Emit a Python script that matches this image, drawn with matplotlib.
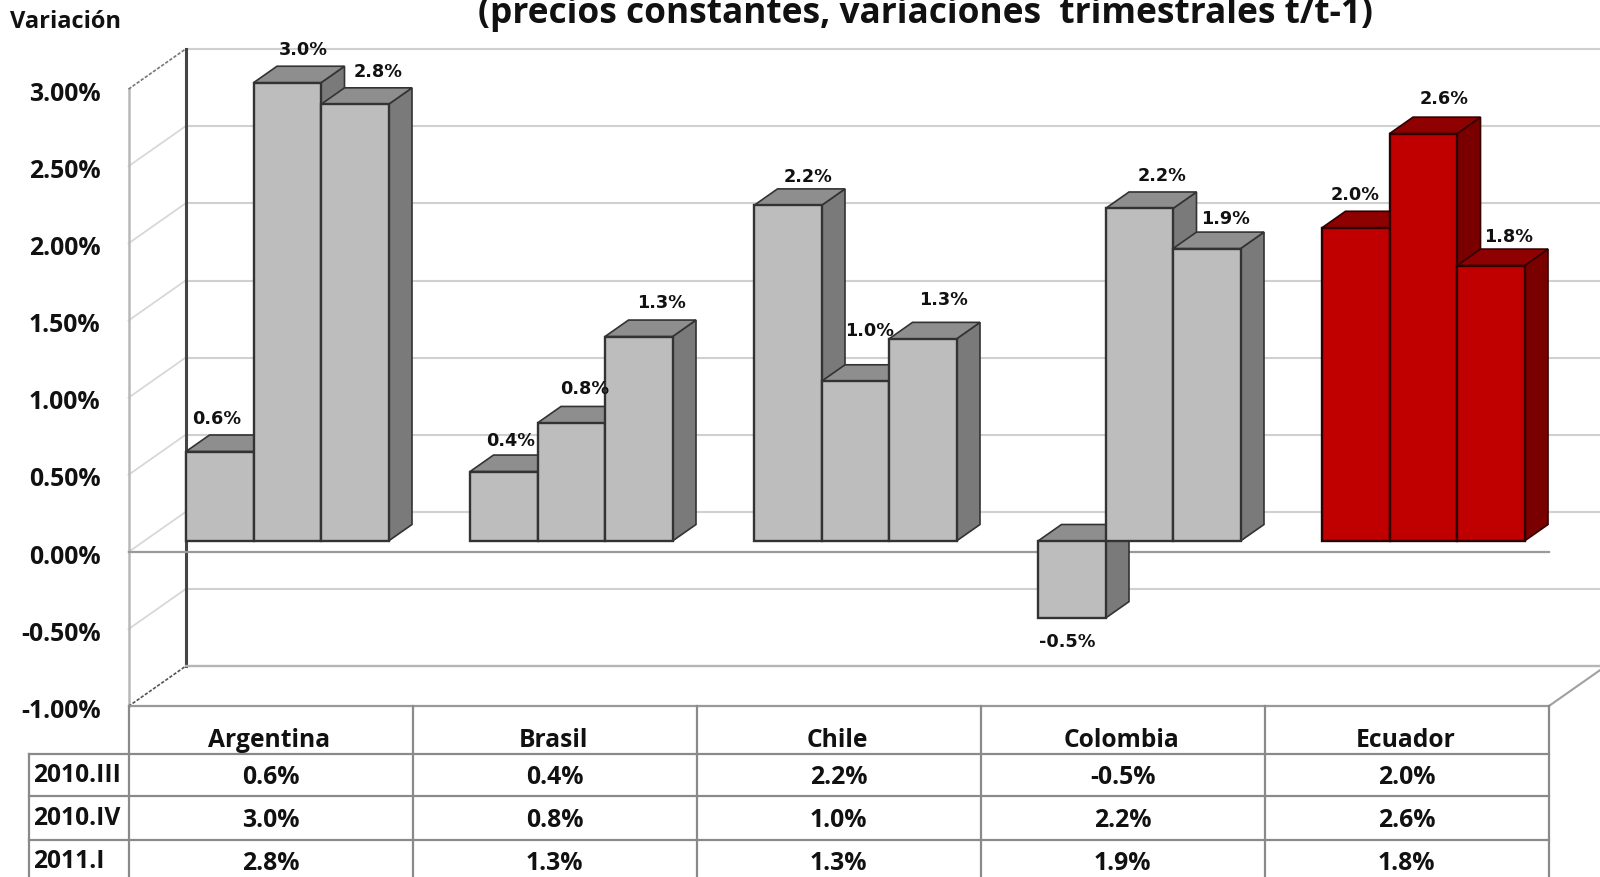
import matplotlib
matplotlib.use("Agg")
import matplotlib.pyplot as plt
from matplotlib.patches import Polygon

plt.rcParams['font.family'] = ['Open Sans', 'DejaVu Sans']

countries = ["Argentina", "Brasil", "Chile", "Colombia", "Ecuador"]
periods = ["2010.III", "2010.IV", "2011.I"]
v_2010_3 = [0.58, 0.45, 2.175, -0.50, 2.03]
v_2010_4 = [2.97, 0.765, 1.035, 2.155, 2.64]
v_2011_1 = [2.83, 1.325, 1.31, 1.895, 1.785]
lab_2010_3 = ["0.6%", "0.4%", "2.2%", "-0.5%", "2.0%"]
lab_2010_4 = ["3.0%", "0.8%", "1.0%", "2.2%", "2.6%"]
lab_2011_1 = ["2.8%", "1.3%", "1.3%", "1.9%", "1.8%"]
yticks = [-1.0, -0.5, 0, 0.5, 1.0, 1.5, 2.0, 2.5, 3.0]

W, H = 1600, 878
PX = 284.0   # px per category
PY = 154.3   # px per unit
X0, Y0 = 128.5, 553
fig = plt.figure(figsize=(W/100, H/100), dpi=100)
ax = fig.add_axes([0, 0, 1, 1])
ax.set_xlim(-X0/PX, (W-X0)/PX)
ax.set_ylim(-(H-Y0)/PY, Y0/PY)
ax.axis('off')

dx = lambda px: px/PX
dy = lambda px: px/PY
WALL_X, WALL_Y = dx(57), dy(40)
BAR_DX, BAR_DY = dx(23.5), dy(16.5)
PLANE_X, PLANE_Y = dx(16.5), dy(11)
RIGHT = 5.0
GRID = "#d0d0d0"
TOP_EXT = (W-X0)/PX

# walls and gridlines
for t in yticks[1:-1]:
    ax.plot([0, WALL_X], [t, t+WALL_Y], color="#d8d8d8", lw=1.3, zorder=1)
for t in yticks[1:]:
    ax.plot([WALL_X, TOP_EXT], [t+WALL_Y]*2, color=GRID, lw=1.5, zorder=1)
ax.plot([WALL_X, WALL_X], [-1+WALL_Y, 3+WALL_Y], color="#444444", lw=2.2, zorder=2)
ax.plot([0, 0], [-1, 3], color="#b8b8b8", lw=1.8, zorder=2)
ax.plot([0, WALL_X], [3, 3+WALL_Y], color="#777777", lw=1.2, ls=(0, (2, 1)), zorder=2)
ax.plot([0, WALL_X], [-1, -1+WALL_Y], color="#555555", lw=1.2, ls=(0, (2, 1)), zorder=2)
ax.plot([WALL_X, TOP_EXT], [-1+WALL_Y]*2, color="#b5b5b5", lw=1.7, zorder=2)
ax.plot([RIGHT, RIGHT+WALL_X], [-1, -1+WALL_Y], color="#a0a0a0", lw=1.5, zorder=2)
ax.plot([0, RIGHT], [0, 0], color="#999999", lw=1.6, zorder=2)
ax.plot([0, RIGHT], [-1, -1], color="#999999", lw=1.6, zorder=2)

# y tick labels
for t in yticks:
    ax.text(dx(-28), t-dy(4), f"{t:.2f}%", ha='right', va='center', fontsize=17.8,
            fontweight='bold', color="#111111", zorder=8)

ax.text(dx(-118.5), Y0/PY-dy(22), "Variación", ha='left', va='center', fontsize=17,
        fontweight='bold', color="#111111")
ax.text(2.805, Y0/PY-dy(14), "(precios constantes, variaciones  trimestrales t/t-1)",
        ha='center', va='center', fontsize=25.4, fontweight='bold', color="#111111")


def bar3d(x, w, v, front, top, side, edge, z):
    y0 = PLANE_Y
    y1 = v + PLANE_Y
    x0 = x + PLANE_X
    x1 = x0 + w
    hi, lo = max(y0, y1), min(y0, y1)
    ax.add_patch(Polygon([(x1, lo), (x1+BAR_DX, lo+BAR_DY), (x1+BAR_DX, hi+BAR_DY), (x1, hi)],
                         fc=side, ec=edge, lw=1.2, zorder=z))
    ax.add_patch(Polygon([(x0, hi), (x0+BAR_DX, hi+BAR_DY), (x1+BAR_DX, hi+BAR_DY), (x1, hi)],
                         fc=top, ec=edge, lw=1.2, zorder=z))
    ax.add_patch(Polygon([(x0, lo), (x1, lo), (x1, hi), (x0, hi)],
                         fc=front, ec=edge, lw=1.7, zorder=z+0.1))


series = [v_2010_3, v_2010_4, v_2011_1]
labels = [lab_2010_3, lab_2010_4, lab_2011_1]
BW = dx(67.5)
GAP_START = dx(41)
for c in range(len(countries)):
    red = countries[c] == "Ecuador"
    front, top, side, edge = (("#c00000", "#8f0000", "#7a0000", "#300000") if red
                              else ("#bdbdbd", "#8e8e8e", "#7a7a7a", "#333333"))
    for s in range(3):
        x = c + GAP_START + s*BW
        bar3d(x, BW, series[s][c], front, top, side, edge, 3 + s*0.5 + c)

# hand placement of the value labels, px right / px down from the default spot
nudge = [
    [(-24, -1), (-14, 1), (-1, 3), (-4, 0), (-22, -1)],
    [(-5, -1), (-8, -2), (-7, -18), (1, -1), (-1, -3)],
    [(2, -1), (1, -2), (-1, -7), (-3, 2), (-4, 3)],
]
for c in range(len(countries)):
    for s in range(3):
        v = series[s][c]
        x = c + GAP_START + s*BW + PLANE_X + BW/2 + BAR_DX
        if v >= 0:
            y = v + PLANE_Y + BAR_DY + dy(17)
            x_t = x - dx(2)
        else:
            y = v + PLANE_Y - dy(22)
            x_t = x - BAR_DX
        nx, ny = nudge[s][c]
        ax.text(x_t + dx(nx*1.02), y - dy(ny*1.02 + 1), labels[s][c], ha='center', va='center',
                fontsize=12.7, fontweight='bold', color="#111111", zorder=20,
                family='DejaVu Sans')

# data table
rows = [-1.0, -1.0-dy(48), -1.0-dy(90), -1.0-dy(133.5), -1.0-dy(176)]
LW = 1.6
TC = "#8a8a8a"
for c in range(6):
    ax.plot([c, c], [rows[0], rows[4]], color=TC, lw=LW, zorder=6)
for r in rows[1:4]:
    ax.plot([dx(-99), RIGHT], [r, r], color=TC, lw=LW, zorder=6)
ax.plot([dx(-99), dx(-99)], [rows[1], rows[4]], color=TC, lw=LW, zorder=6)
for c, name in enumerate(countries):
    ax.text(c+0.5-dx(1), (rows[0]+rows[1])/2-dy(9), name, ha='center', va='center',
            fontsize=17.7, fontweight='bold', color="#111111", zorder=7)
    for r in range(3):
        ax.text(c+0.5, (rows[r+1]+rows[r+2])/2-dy(1), labels[r][c], ha='center', va='center',
                fontsize=17.8, fontweight='bold', color="#111111", zorder=7)
for r, p in enumerate(periods):
    ax.text(dx(-95), (rows[r+1]+rows[r+2])/2+dy(1), p, ha='left', va='center',
            fontsize=17.7, fontweight='bold', color="#111111", zorder=7)

fig.savefig("out.png", dpi=100)
